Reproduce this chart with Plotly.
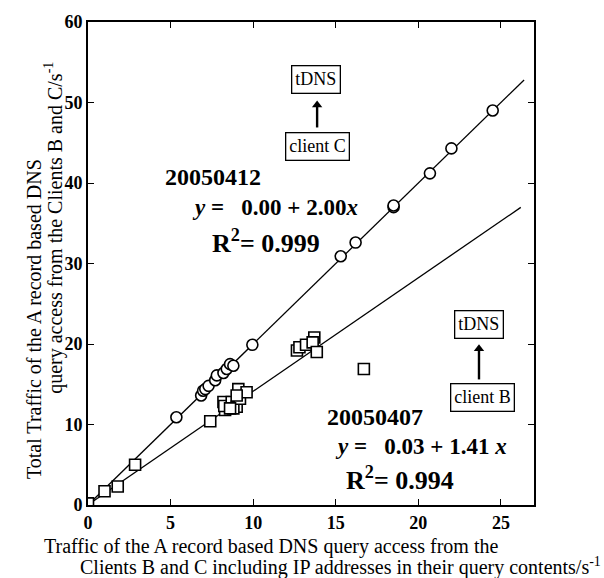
import plotly.graph_objects as go

# Client C traffic, 2005-04-12 (circles)
c_x = [5.35, 6.85, 6.97, 7.1, 7.3, 7.7, 7.8, 8.2, 8.4, 8.6, 8.8, 9.95,
       15.3, 16.2, 18.5, 18.5, 20.7, 22.0, 24.5]
c_y = [10.9, 13.6, 14.2, 14.4, 14.8, 15.5, 16.1, 16.4, 16.9, 17.5, 17.3, 19.9,
       30.9, 32.6, 37.0, 37.2, 41.2, 44.3, 49.0]

# Client B traffic, 2005-04-07 (squares)
b_x = [0.0, 1.0, 1.8, 2.85, 7.4, 8.2, 8.3, 8.25, 8.7, 9.0, 8.8, 9.1, 9.2,
       9.6, 9.0, 8.6, 12.65, 12.8, 13.2, 13.7, 13.6, 13.85, 16.7]
b_y = [0.2, 1.7, 2.3, 5.0, 10.4, 12.8, 11.8, 12.3, 12.8, 12.2, 12.0, 14.4, 13.2,
       14.0, 13.6, 12.0, 19.2, 19.6, 19.9, 20.8, 20.2, 19.0, 16.9]

# Regression fits: (intercept, slope, end of fitted range)
fit_c = (0.00, 2.00, 26.4)
fit_b = (0.03, 1.41, 26.2)

x_ticks = [0, 5, 10, 15, 20, 25]
y_ticks = [0, 10, 20, 30, 40, 50, 60]

SERIF = "Liberation Serif, Times New Roman, serif"
NB = "\u00a0"

fig = go.Figure()

for a, b, xe in (fit_c, fit_b):
    fig.add_trace(go.Scatter(x=[0, xe], y=[a, a + b * xe], mode="lines",
                             line=dict(color="black", width=1.3),
                             showlegend=False, hoverinfo="skip"))

fig.add_trace(go.Scatter(x=b_x, y=b_y, mode="markers", showlegend=False,
                         marker=dict(symbol="square", size=11, color="white",
                                     line=dict(color="black", width=1.6))))
fig.add_trace(go.Scatter(x=c_x, y=c_y, mode="markers", showlegend=False,
                         marker=dict(symbol="circle", size=11, color="white",
                                     line=dict(color="black", width=1.6))))

annots = []

def eq_text(x, y, text, size):
    annots.append(dict(x=x, y=y, xref="x", yref="y", text=text, showarrow=False,
                       xanchor="left", yanchor="middle",
                       font=dict(family=SERIF, size=size, color="black")))

# Fit summaries
eq_text(4.54, 40.8, "<b>20050412</b>", 24)
eq_text(6.17, 37.0, f"<b><i>y</i> ={NB*3}0.00 + 2.00<i>x</i></b>", 23)
eq_text(7.38, 32.7, "<b>R<sup>2</sup>= 0.999</b>", 26)
eq_text(14.35, 10.9, "<b>20050407</b>", 24)
eq_text(14.83, 7.3, f"<b><i>y</i> ={NB*3}0.03 + 1.41 <i>x</i></b>", 23)
eq_text(15.5, 3.3, "<b>R<sup>2</sup>= 0.994</b>", 26)

def box(x, y, text):
    annots.append(dict(x=x, y=y, xref="x", yref="y", text=text, showarrow=False,
                       xanchor="center", yanchor="middle",
                       bordercolor="black", borderwidth=1.3, borderpad=3,
                       bgcolor="white",
                       font=dict(family=SERIF, size=18, color="black")))

def arrow(x, y0, y1):
    # shaft as a shape, head as a triangle marker
    fig.add_shape(type="line", x0=x, x1=x, y0=y0, y1=y1 - 0.6, xref="x", yref="y",
                  line=dict(color="black", width=2.4))
    fig.add_trace(go.Scatter(x=[x], y=[y1 - 0.6], mode="markers", showlegend=False,
                             hoverinfo="skip",
                             marker=dict(symbol="triangle-up", size=9, color="black",
                                         line=dict(width=0))))

box(13.83, 52.9, "tDNS")
box(13.89, 44.5, "client C")
arrow(13.87, 46.9, 50.3)
box(23.70, 22.4, "tDNS")
box(23.89, 13.3, "client B")
arrow(23.67, 15.6, 20.0)

# Axis titles
title_font = dict(family=SERIF, size=20, color="black")
annots.append(dict(x=-0.121, y=0.385, xref="paper", yref="paper", textangle=-90,
                   text="Total Traffic of the A record based DNS", showarrow=False,
                   xanchor="center", yanchor="middle", font=title_font))
annots.append(dict(x=-0.076, y=0.574, xref="paper", yref="paper", textangle=-90,
                   text="query access from the Clients B and C/s<sup>-1</sup>",
                   showarrow=False, xanchor="center", yanchor="middle", font=title_font))
annots.append(dict(x=-0.103, y=-0.0855, xref="paper", yref="paper",
                   text="Traffic of the A record based DNS query access from the",
                   showarrow=False, xanchor="left", yanchor="middle", font=title_font))
annots.append(dict(x=-0.022, y=-0.127, xref="paper", yref="paper",
                   text="Clients B and C including IP addresses in their query contents/s<sup>-1</sup>",
                   showarrow=False, xanchor="left", yanchor="middle", font=title_font))

axis_common = dict(showline=True, linecolor="black", linewidth=2, mirror="ticks",
                   ticks="inside", ticklen=6, tickwidth=1.3, tickcolor="black",
                   showgrid=False, zeroline=False,
                   tickfont=dict(family=SERIF, size=18, color="black"))

fig.update_layout(
    width=604, height=578,
    margin=dict(l=88, r=70, t=14, b=73),
    paper_bgcolor="white", plot_bgcolor="white",
    xaxis=dict(range=[0, 27], tickvals=x_ticks,
               ticktext=[f"<b>{v}</b>" for v in x_ticks], **axis_common),
    yaxis=dict(range=[0, 60], tickvals=y_ticks,
               ticktext=[f"<b>{v}</b>" for v in y_ticks], **axis_common),
    annotations=annots,
    showlegend=False,
)

fig.write_html("out.html")
